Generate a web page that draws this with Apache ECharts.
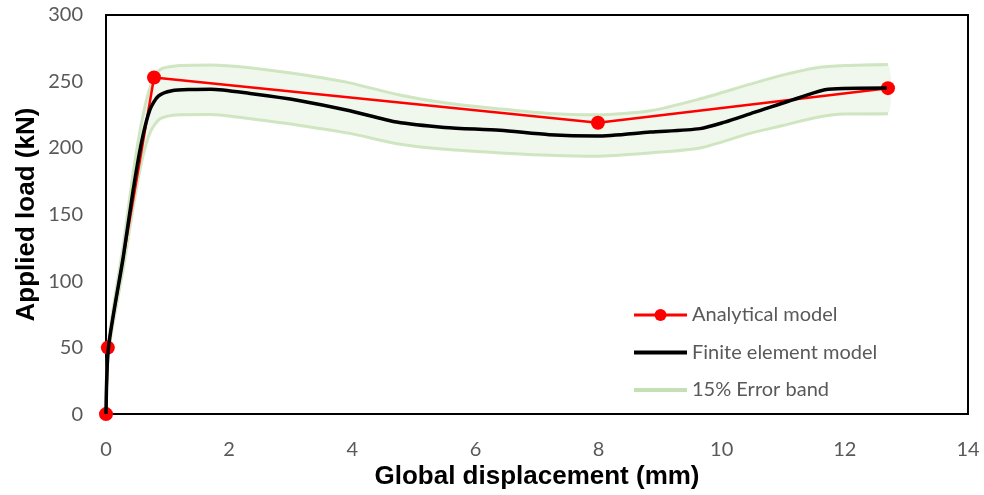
<!DOCTYPE html>
<html>
<head>
<meta charset="utf-8">
<script src="https://cdn.jsdelivr.net/npm/echarts@6/dist/echarts.min.js"></script>
<style>
html,body{margin:0;padding:0;background:#fff;}
#chart{width:984px;height:495px;}
</style>
</head>
<body>
<div id="chart"></div>
<script>
// ---- data ----
var analyticalX = [0, 0.03, 0.78, 7.99, 12.7];
var analyticalY = [0, 50, 253, 219, 245];

var feX = [0, 0.04, 0.28, 0.44, 0.58, 0.715, 0.85, 1.07, 1.4, 1.7, 2.34, 3.15, 3.96, 4.72, 5.5, 6.4, 7.2, 7.97, 8.84, 9.65, 10.05, 10.46, 11.27, 11.73, 12.68];
var feY = [0, 50, 118, 168, 205, 229, 239, 243, 244, 244.2, 241, 235.6, 228, 219.5, 215.5, 213.3, 210, 209, 212, 214.6, 219.5, 225.7, 238, 244.2, 245.2];

var bandX     = [0, 0.04, 0.28, 0.44, 0.58, 0.72, 0.88, 1.2, 1.7, 2.34, 3.15, 3.96, 4.75, 5.5, 6.4, 7.2, 7.97, 8.84, 9.65, 10.46, 11.0, 11.54, 12.0, 12.7];
var bandUpper = [0, 54, 127, 181, 220, 246, 259, 262, 262.4, 260.4, 255.4, 249, 240, 234, 229.4, 226, 225, 228, 237, 248, 255, 260.4, 262, 262.8];
var bandLower = [0, 46, 109, 155, 190, 212, 222, 225, 225.3, 222, 217, 211, 203, 199, 196.3, 194.5, 193.8, 196.3, 200, 211, 217, 223, 225.5, 225.7];

var xTicks = [0, 2, 4, 6, 8, 10, 12, 14];
var yTicks = [0, 50, 100, 150, 200, 250, 300];

var seriesNames = ['Analytical model', 'Finite element model', '15% Error band'];
var axisTitles = { x: 'Global displacement (mm)', y: 'Applied load (kN)' };

// ---- build ----
function zip(xs, ys) { return xs.map(function (x, i) { return [x, ys[i]]; }); }

var chart = echarts.init(document.getElementById('chart'), null, { renderer: 'canvas' });
var labelFont = 'Lato, "Noto Sans", sans-serif';
var titleFont = '"Liberation Sans", Arial, sans-serif';
var bandColor = '#c5e0b4';

var option = {
  animation: false,
  backgroundColor: '#fff',
  grid: {
    left: 106, right: 16, top: 15, bottom: 76,
    show: true, borderColor: '#000', borderWidth: 2, backgroundColor: 'transparent'
  },
  legend: {
    orient: 'vertical',
    left: 632, top: 305, padding: 0,
    itemWidth: 53, itemHeight: 15, itemGap: 17.5,
    textStyle: { color: '#595959', fontSize: 20, fontFamily: labelFont, lineHeight: 20 },
    data: [
      { name: seriesNames[0], lineStyle: { width: 3 } },
      { name: seriesNames[1], itemStyle: { opacity: 0 }, lineStyle: { width: 4 } },
      { name: seriesNames[2], itemStyle: { opacity: 0 }, lineStyle: { color: bandColor, width: 4, type: 'solid', opacity: 1 } }
    ]
  },
  xAxis: {
    type: 'value', min: xTicks[0], max: xTicks[xTicks.length - 1], interval: 2,
    name: axisTitles.x, nameLocation: 'middle', nameGap: 45,
    nameTextStyle: { fontFamily: titleFont, fontWeight: 'bold', fontSize: 26, color: '#000' },
    axisLine: { show: false }, axisTick: { show: false }, splitLine: { show: false },
    axisLabel: { color: '#595959', fontSize: 20, fontFamily: labelFont, margin: 25 }
  },
  yAxis: {
    type: 'value', min: yTicks[0], max: yTicks[yTicks.length - 1], interval: 50,
    name: axisTitles.y, nameLocation: 'middle', nameGap: 66, nameRotate: 90, nameMoveOverlap: false,
    nameTextStyle: { fontFamily: titleFont, fontWeight: 'bold', fontSize: 26, color: '#000' },
    axisLine: { show: false }, axisTick: { show: false }, splitLine: { show: false },
    axisLabel: { color: '#595959', fontSize: 20, fontFamily: labelFont, margin: 23 }
  },
  series: [
    {
      name: '__bandFill', type: 'custom', z: 1, silent: true,
      data: [[bandX[0], bandLower[0]]],
      renderItem: function (params, api) {
        var pts = [];
        for (var i = 0; i < bandX.length; i++) pts.push(api.coord([bandX[i], bandUpper[i]]));
        for (var j = bandX.length - 1; j >= 0; j--) pts.push(api.coord([bandX[j], bandLower[j]]));
        return { type: 'polygon', shape: { points: pts, smooth: 0.2 }, style: { fill: 'rgba(197,224,180,0.25)', stroke: 'none' } };
      }
    },
    {
      name: seriesNames[2], type: 'line', z: 2, symbol: 'none', silent: true, smooth: 0.25,
      data: zip(bandX, bandUpper),
      lineStyle: { color: bandColor, width: 3, opacity: 0.8 }, itemStyle: { color: bandColor }
    },
    {
      name: seriesNames[2], type: 'line', z: 2, symbol: 'none', silent: true, smooth: 0.25,
      data: zip(bandX, bandLower),
      lineStyle: { color: bandColor, width: 3, opacity: 0.8 }, itemStyle: { color: bandColor }
    },
    {
      name: seriesNames[0], type: 'line', z: 3,
      data: zip(analyticalX, analyticalY),
      symbol: 'circle', symbolSize: 14,
      lineStyle: { color: '#ff0000', width: 2.5 },
      itemStyle: { color: '#ff0000' }
    },
    {
      name: seriesNames[1], type: 'line', z: 4, symbol: 'none', smooth: 0.25,
      data: zip(feX, feY),
      lineStyle: { color: '#000', width: 3.5 },
      itemStyle: { color: '#000' }
    }
  ]
};
chart.setOption(option);
</script>
</body>
</html>
